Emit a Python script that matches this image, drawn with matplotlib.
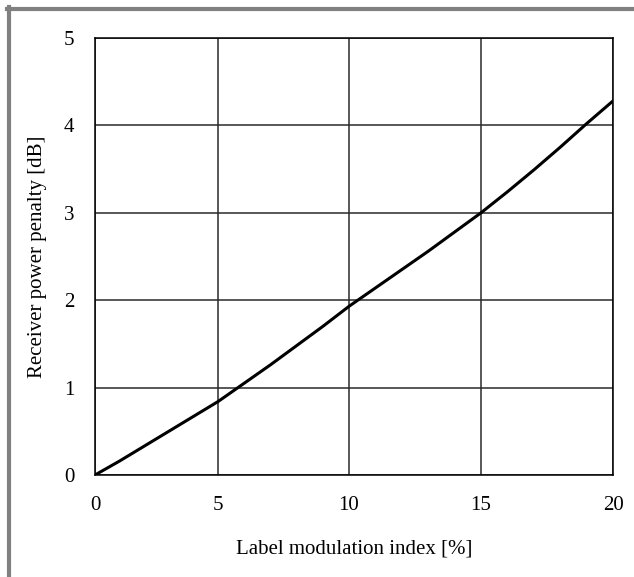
import numpy as np
import matplotlib.pyplot as plt
from matplotlib.lines import Line2D

# label modulation index [%] vs receiver power penalty [dB]
mod_index = [0, 1, 2, 3, 4, 5, 6, 7, 8, 9, 10,
             11, 12, 13, 14, 15, 16, 17, 18, 19, 20]
penalty = [0, 0.16, 0.33, 0.50, 0.67, 0.84, 1.05, 1.26, 1.48, 1.70, 1.93,
           2.14, 2.35, 2.56, 2.78, 3.00, 3.24, 3.49, 3.75, 4.02, 4.28]
xticks = [0, 5, 10, 15, 20]
yticks = [0, 1, 2, 3, 4, 5]

# the original x axis is not evenly spaced (first interval is shorter)
tick_pos = [0, 123, 254, 386, 518]

def fwd(x):
    return np.interp(x, xticks, tick_pos)

def inv(p):
    return np.interp(p, tick_pos, xticks)

plt.rcParams['font.family'] = ['Liberation Serif', 'DejaVu Serif']

fig = plt.figure(figsize=(6.34, 5.77), dpi=100)
ax = fig.add_axes([95/634, 1-475/577, (613-95)/634, (475-38)/577])
ax.set_xscale('function', functions=(fwd, inv))

ax.plot(mod_index, penalty, color='black', linewidth=2.2, solid_capstyle='butt')

ax.set_xlim(0, 20)
ax.set_ylim(0, 5)
ax.set_xticks(xticks)
ax.set_xticklabels([str(t) for t in xticks])
ax.set_xticks([], minor=True)
ax.set_yticks(yticks)
ax.grid(True, color='#2a2a2a', linewidth=1.1)
ax.tick_params(length=0, labelsize=15, pad=15)
ax.tick_params(axis='y', pad=15)
for s in ax.spines.values():
    s.set_color('black')
    s.set_linewidth(1.1)

ax.set_xlabel('Label modulation index [%]', fontsize=15, labelpad=18)
ax.set_ylabel('Receiver power penalty [dB]', fontsize=15, labelpad=12)

# gray frame on top and left
fig.add_artist(Line2D([7/634, 1], [1-9/577, 1-9/577], transform=fig.transFigure,
                      color='#808080', linewidth=3))
fig.add_artist(Line2D([9/634, 9/634], [0, 1-7/577], transform=fig.transFigure,
                      color='#808080', linewidth=3))

fig.savefig('out.png', dpi=100)
